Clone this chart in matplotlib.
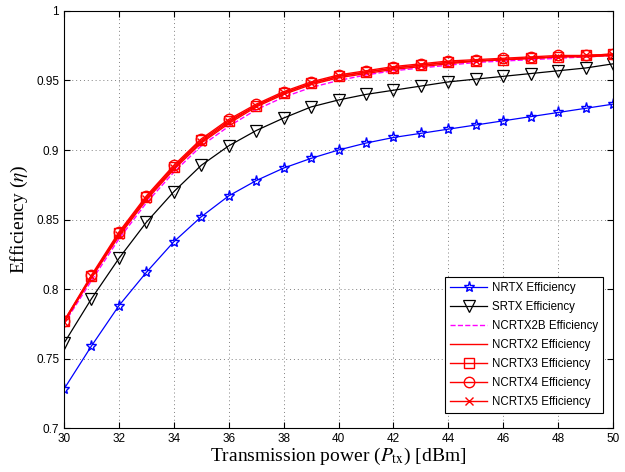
import numpy as np
import matplotlib
matplotlib.use("Agg")
import matplotlib.pyplot as plt

plt.rcParams['mathtext.fontset'] = 'stix'
plt.rcParams['font.family'] = ['Liberation Sans', 'DejaVu Sans']

# transmission power (dBm)
ptx = list(range(30, 51))

nrtx = [0.728, 0.759, 0.788, 0.812, 0.834, 0.852, 0.867, 0.878, 0.887, 0.894, 0.900,
        0.905, 0.909, 0.912, 0.915, 0.918, 0.921, 0.924, 0.927, 0.930, 0.933]
srtx = [0.761, 0.793, 0.822, 0.848, 0.870, 0.889, 0.903, 0.914, 0.923, 0.931, 0.936,
        0.940, 0.943, 0.946, 0.949, 0.951, 0.953, 0.955, 0.957, 0.959, 0.962]
ncrtx2b = [0.775, 0.806, 0.836, 0.862, 0.884, 0.903, 0.917, 0.929, 0.938, 0.945, 0.950,
           0.954, 0.957, 0.959, 0.961, 0.963, 0.964, 0.965, 0.966, 0.967, 0.968]
ncrtx2 = [0.776, 0.808, 0.838, 0.864, 0.886, 0.905, 0.919, 0.931, 0.940, 0.947, 0.952,
          0.955, 0.958, 0.960, 0.962, 0.964, 0.965, 0.966, 0.967, 0.967, 0.968]
ncrtx3 = [0.777, 0.809, 0.840, 0.866, 0.888, 0.907, 0.921, 0.932, 0.941, 0.948, 0.953,
          0.956, 0.959, 0.961, 0.963, 0.964, 0.965, 0.966, 0.967, 0.968, 0.969]
ncrtx4 = [0.777, 0.810, 0.841, 0.867, 0.889, 0.908, 0.922, 0.933, 0.942, 0.949, 0.954,
          0.957, 0.960, 0.962, 0.964, 0.965, 0.966, 0.967, 0.968, 0.968, 0.969]
ncrtx5 = [0.776, 0.809, 0.839, 0.865, 0.887, 0.906, 0.920, 0.932, 0.941, 0.948, 0.953,
          0.956, 0.959, 0.961, 0.963, 0.964, 0.965, 0.966, 0.967, 0.968, 0.968]

fig = plt.figure(figsize=(6.25, 4.72), dpi=100)
ax = fig.add_axes([0.1024, 0.0932, 0.8786, 0.8835])

ax.plot(ptx, nrtx, color='blue', lw=0.9, marker='*', ms=8, mfc='none', mew=1.0,
        label='NRTX Efficiency')
ax.plot(ptx, srtx, color='black', lw=0.9, marker='v', ms=8.5, mfc='none', mew=0.9,
        label='SRTX Efficiency')
ax.plot(ptx, ncrtx2b, color='magenta', lw=1.0, ls='--', label='NCRTX2B Efficiency')
ax.plot(ptx, ncrtx2, color='red', lw=1.0, label='NCRTX2 Efficiency')
ax.plot(ptx, ncrtx3, color='red', lw=1.0, marker='s', ms=6.5, mfc='none', mew=1.0,
        label='NCRTX3 Efficiency')
ax.plot(ptx, ncrtx4, color='red', lw=1.0, marker='o', ms=7.5, mfc='none', mew=1.0,
        label='NCRTX4 Efficiency')
ax.plot(ptx, ncrtx5, color='red', lw=1.0, marker='x', ms=5.5, mew=1.0,
        label='NCRTX5 Efficiency')

ax.set_xlim(30, 50)
ax.set_ylim(0.7, 1.0)
ax.set_xticks(range(30, 51, 2))
ax.set_yticks(np.arange(0.7, 1.001, 0.05))
ax.set_yticklabels(['0.7', '0.75', '0.8', '0.85', '0.9', '0.95', '1'])
ax.tick_params(direction='in', top=True, right=True, labelsize=8.5, length=4)
ax.grid(True, ls=(0, (1, 3)), color='gray', lw=0.7)

ax.set_xlabel(r'Transmission power ($P_{\rm tx}$) [dBm]', family='Liberation Serif',
              fontsize=14, labelpad=1)
ax.set_ylabel(r'Efficiency ($\eta$)', family='Liberation Serif', fontsize=14, labelpad=4)

leg = ax.legend(loc='lower right', bbox_to_anchor=(0.982, 0.036), borderaxespad=0,
                fontsize=8.3, fancybox=False, edgecolor='black', framealpha=1,
                handlelength=3.2, handletextpad=0.4, labelspacing=0.6, borderpad=0.45)
leg.get_frame().set_linewidth(0.8)

fig.savefig('out.png', dpi=100)
